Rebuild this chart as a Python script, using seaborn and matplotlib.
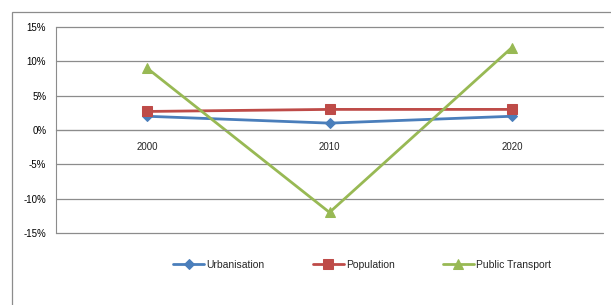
import matplotlib
matplotlib.use("Agg")
import matplotlib.pyplot as plt
import seaborn as sns
import pandas as pd
from matplotlib.patches import Rectangle
from matplotlib.ticker import FixedLocator, FuncFormatter

years = ["2000", "2010", "2020"]
urbanisation = [2.0, 1.0, 2.0]
population = [2.7, 3.0, 3.0]
public_transport = [9.0, -12.0, 12.0]
series_names = ["Urbanisation", "Population", "Public Transport"]
colors = ["#4A7EBB", "#BE4B48", "#98B954"]
markers = ["D", "s", "^"]
msizes = [5, 7, 7]

sns.set_style("white")
plt.rcParams["font.family"] = ["Liberation Sans", "DejaVu Sans"]

df = pd.DataFrame({
    "year": years * 3,
    "value": urbanisation + population + public_transport,
    "series": [s for s in series_names for _ in years],
})
df["pos"] = [0, 1, 2] * 3

fig = plt.figure(figsize=(6.11, 3.05), dpi=100)
ax = fig.add_axes([56/611, 1-233/305, (603-56)/611, (233-27)/305])

for name, c, m, ms in zip(series_names, colors, markers, msizes):
    sub = df[df["series"] == name]
    sns.lineplot(data=sub, x="pos", y="value", ax=ax, color=c, marker=m,
                 markersize=ms, markeredgecolor=c, linewidth=2.0, label=name,
                 legend=False)

ax.set_xlim(-0.5, 2.5)
ax.set_ylim(-15, 15)
ax.set_yticks([-15, -10, -5, 0, 5, 10, 15])
ax.yaxis.set_major_formatter(FuncFormatter(lambda v, p: f"{int(v)}%"))
ax.grid(axis="y", color="#8C8C8C", linewidth=0.9)
for gl in ax.get_ygridlines():
    gl.set_clip_on(False)
ax.set_axisbelow(True)
ax.set_xlabel("")
ax.set_ylabel("")

ax.spines["top"].set_visible(False)
ax.spines["right"].set_visible(False)
ax.spines["left"].set_color("#8C8C8C")
ax.spines["bottom"].set_color("#8C8C8C")
ax.spines["bottom"].set_position(("data", 0))

ax.xaxis.set_major_locator(FixedLocator([-0.5, 0.5, 1.5, 2.5]))
ax.xaxis.set_major_formatter(FuncFormatter(lambda v, p: ""))
ax.xaxis.set_minor_locator(FixedLocator([0, 1, 2]))
ax.xaxis.set_minor_formatter(FuncFormatter(lambda v, p: years[int(round(v))]))
ax.tick_params(axis="x", which="major", direction="out", length=4, color="#8C8C8C")
ax.tick_params(axis="x", which="minor", length=0, labelsize=7, pad=9)
ax.tick_params(axis="y", direction="out", length=4, color="#8C8C8C", labelsize=7, pad=3)
ax.tick_params(axis="both", labelcolor="black")

fig.patches.append(Rectangle((12/611, -0.1), 1.2, 1.1 - 12/305 + 0.0, transform=fig.transFigure,
                             fill=False, edgecolor="#8C8C8C", linewidth=0.9))

handles, labels = ax.get_legend_handles_labels()
fig.legend(handles, labels, loc="center", bbox_to_anchor=(362/611, 1-265/305), ncol=3,
           frameon=False, fontsize=7.5, handlelength=3.0, handletextpad=0.2,
           columnspacing=4.6)

fig.savefig("out.png", dpi=100)
